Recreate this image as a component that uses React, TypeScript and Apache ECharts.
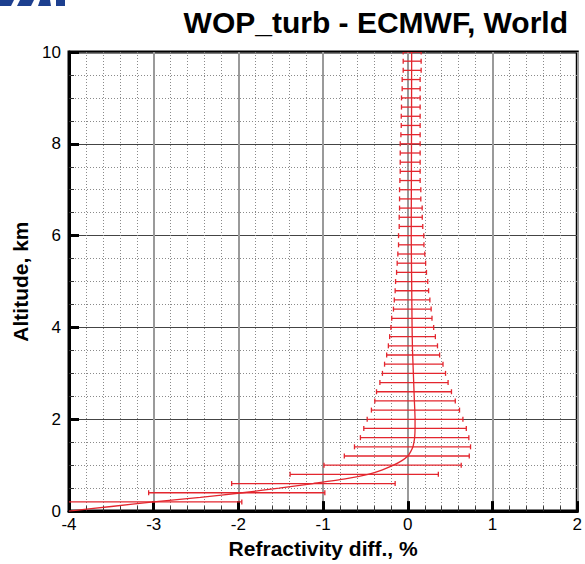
import React, { useEffect, useRef } from "react";
import * as echarts from "echarts";

const altitudes = [
  0.2, 0.4, 0.6, 0.8, 1.0, 1.2, 1.4, 1.6, 1.8, 2.0,
  2.2, 2.4, 2.6, 2.8, 3.0, 3.2, 3.4, 3.6, 3.8, 4.0,
  4.2, 4.4, 4.6, 4.8, 5.0, 5.2, 5.4, 5.6, 5.8, 6.0,
  6.2, 6.4, 6.6, 6.8, 7.0, 7.2, 7.4, 7.6, 7.8, 8.0,
  8.2, 8.4, 8.6, 8.8, 9.0, 9.2, 9.4, 9.6, 9.8, 10.0,
];

const lowerBound = [
  -4.05, -3.06, -2.08, -1.39, -0.99, -0.75, -0.63, -0.56, -0.52, -0.48,
  -0.43, -0.39, -0.37, -0.33, -0.3, -0.275, -0.25, -0.23, -0.215, -0.2,
  -0.19, -0.17, -0.16, -0.15, -0.145, -0.133, -0.126, -0.118, -0.11, -0.11,
  -0.102, -0.102, -0.098, -0.098, -0.098, -0.094, -0.09, -0.09, -0.09, -0.09,
  -0.082, -0.078, -0.078, -0.075, -0.075, -0.067, -0.067, -0.055, -0.055, -0.055,
];

const upperBound = [
  -1.96, -0.98, -0.15, 0.36, 0.63, 0.725, 0.74, 0.72, 0.69, 0.65,
  0.61, 0.56, 0.515, 0.475, 0.445, 0.415, 0.375, 0.35, 0.325, 0.305,
  0.285, 0.275, 0.26, 0.245, 0.235, 0.22, 0.21, 0.2, 0.19, 0.188,
  0.176, 0.17, 0.169, 0.153, 0.153, 0.145, 0.145, 0.145, 0.145, 0.145,
  0.145, 0.145, 0.145, 0.145, 0.145, 0.145, 0.145, 0.157, 0.157, 0.157,
];

const meanAltitudes = [
  0.0, 0.1, 0.2, 0.3, 0.4, 0.5, 0.6, 0.7, 0.8, 0.9,
  1.0, 1.1, 1.2, 1.3, 1.4, 1.5, 1.6, 1.8, 2.0, 2.5,
  3.0, 3.5, 4.0, 5.0, 6.0, 8.0, 10.0,
];

const meanValues = [
  -4.0, -3.5, -3.0, -2.45, -1.95, -1.52, -1.12, -0.74, -0.47, -0.3,
  -0.17, -0.07, 0.0, 0.035, 0.06, 0.072, 0.08, 0.085, 0.085, 0.075,
  0.065, 0.055, 0.05, 0.045, 0.04, 0.043, 0.045,
];

const xTicks = { min: -4, max: 2, interval: 1 };
const yTicks = { min: 0, max: 10, interval: 2 };

const titleText = "WOP_turb - ECMWF, World";
const xName = "Refractivity diff., %";
const yName = "Altitude, km";

const RED = "#e3262e";
const FONT = "Liberation Sans, Arial, sans-serif";

export default function App() {
  const ref = useRef<HTMLDivElement>(null);

  useEffect(() => {
    if (!ref.current) return;
    const chart = echarts.init(ref.current, null, { renderer: "svg" });

    const barData = altitudes.map((a, i) => [a, lowerBound[i], upperBound[i]]);
    const meanData = meanAltitudes.map((a, i) => [meanValues[i], a]);

    const option: any = {
      animation: false,
      backgroundColor: "#fff",
      textStyle: { fontFamily: FONT },
      title: {
        text: titleText,
        right: 12,
        top: 2,
        textStyle: { fontFamily: FONT, fontSize: 30, fontWeight: "bold", color: "#000" },
      },
      graphic: [
        {
          type: "group",
          left: 0,
          top: 0,
          children: [
            { type: "polygon", shape: { points: [[0, 0], [14, 0], [11, 6], [0, 6]] }, style: { fill: "#1d3f8f" } },
            { type: "polygon", shape: { points: [[20, 0], [34, 0], [31, 6], [17, 6]] }, style: { fill: "#1d3f8f" } },
            { type: "polygon", shape: { points: [[40, 0], [50, 0], [51, 6], [38, 6]] }, style: { fill: "#1d3f8f" } },
            { type: "polygon", shape: { points: [[56, 0], [65, 0], [65, 6], [56, 6]] }, style: { fill: "#1d3f8f" } },
          ],
        },
      ],
      grid: {
        left: 69,
        right: 7,
        top: 52,
        bottom: 47,
        show: true,
        borderColor: "#000",
        borderWidth: 3,
        backgroundColor: "transparent",
      },
      xAxis: {
        type: "value",
        min: xTicks.min,
        max: xTicks.max,
        interval: xTicks.interval,
        name: xName,
        nameLocation: "middle",
        nameGap: 24,
        nameTextStyle: { fontFamily: FONT, fontSize: 21, fontWeight: "bold", color: "#000" },
        axisLine: { show: true, onZero: false, lineStyle: { color: "#000", width: 3 } },
        axisTick: { show: true, inside: true, length: 10, lineStyle: { color: "#000", width: 3 } },
        minorTick: { show: true, splitNumber: 5, length: 5, lineStyle: { color: "#333", width: 1 } },
        axisLabel: { fontFamily: FONT, fontSize: 17, color: "#000", margin: 5 },
        splitLine: { show: true, lineStyle: { color: "#9a9a9a", width: 2 } },
        minorSplitLine: { show: true, lineStyle: { color: "#8a8a8a", width: 1, type: [1, 2] } },
      },
      yAxis: {
        type: "value",
        min: yTicks.min,
        max: yTicks.max,
        interval: yTicks.interval,
        name: yName,
        nameLocation: "middle",
        nameGap: 38,
        nameRotate: 90,
        nameTextStyle: { fontFamily: FONT, fontSize: 21, fontWeight: "bold", color: "#000" },
        axisLine: { show: true, onZero: false, lineStyle: { color: "#000", width: 3 } },
        axisTick: { show: true, inside: true, length: 10, lineStyle: { color: "#000", width: 3 } },
        minorTick: { show: true, splitNumber: 4, length: 5, lineStyle: { color: "#333", width: 1 } },
        axisLabel: { fontFamily: FONT, fontSize: 17, color: "#000", margin: 8 },
        splitLine: { show: true, lineStyle: { color: "#444", width: 1 } },
        minorSplitLine: { show: true, lineStyle: { color: "#8a8a8a", width: 1, type: [1, 2] } },
      },
      series: [
        {
          type: "custom",
          clip: true,
          data: barData,
          encode: { x: [1, 2], y: 0 },
          renderItem: (params: any, api: any) => {
            const alt = api.value(0);
            const lo = api.value(1);
            const hi = api.value(2);
            const p1 = api.coord([lo, alt]);
            const p2 = api.coord([hi, alt]);
            const cs = params.coordSys;
            const left = cs.x;
            const x1 = Math.max(p1[0], left);
            const style = { stroke: RED, lineWidth: 1.3 };
            const children: any[] = [
              { type: "line", shape: { x1, y1: p1[1], x2: p2[0], y2: p2[1] }, style },
              { type: "line", shape: { x1: p2[0], y1: p2[1] - 2.5, x2: p2[0], y2: p2[1] + 2.5 }, style },
            ];
            if (p1[0] >= left) {
              children.push({ type: "line", shape: { x1: p1[0], y1: p1[1] - 2.5, x2: p1[0], y2: p1[1] + 2.5 }, style });
            }
            return { type: "group", children };
          },
          z: 3,
        },
        {
          type: "line",
          data: meanData,
          showSymbol: false,
          symbol: "none",
          smooth: 0.2,
          lineStyle: { color: RED, width: 1.3 },
          z: 4,
        },
      ],
    };

    chart.setOption(option);
    return () => chart.dispose();
  }, []);

  return <div ref={ref} style={{ width: 585, height: 564, position: "absolute", left: 0, top: 0 }} />;
}
